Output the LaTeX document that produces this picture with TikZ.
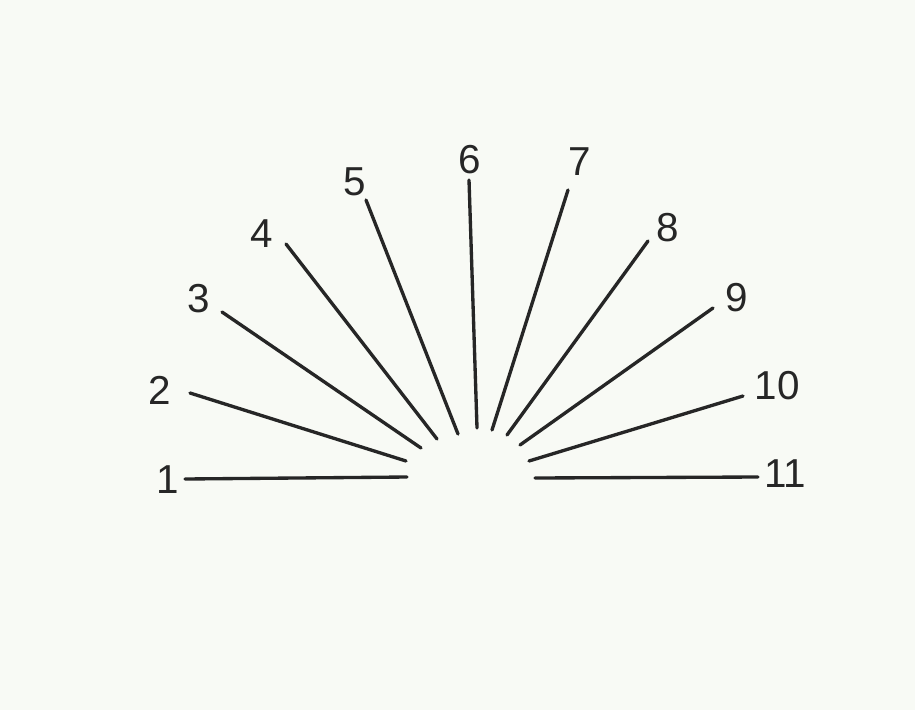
\documentclass[tikz,border=0pt]{standalone}
\usepackage{fontspec}
\setsansfont{Liberation Sans}
\usepackage{xcolor}
\definecolor{paper}{HTML}{F8FAF5}
\definecolor{ink}{HTML}{262626}

\begin{document}
\begin{tikzpicture}[x=0.02cm, y=-0.02cm, every node/.style={inner sep=0pt, text=ink, font=\sffamily\fontsize{23}{26}\selectfont}, ray/.style={draw=ink, line width=1.9pt, line cap=round}]
\fill[paper] (0,0) rectangle (915,710);
\useasboundingbox (0,0) rectangle (915,710);

% labels
\node (l1) at (168,480) {1};
\node (l2) at (160,390) {2};
\node (l3) at (199,299) {3};
\node (l4) at (262,234) {4};
\node (l5) at (355,182) {5};
\node (l6) at (470,160) {6};
\node (l7) at (580,162) {7};
\node (l8) at (668,228) {8};
\node (l9) at (737,298) {9};
\node (l10) at (777,386) {10};
\node (l11) at (785,474) {11};

% outer ends
\coordinate (o1) at (185,479);
\coordinate (o2) at (190,393);
\coordinate (o3) at (222,312);
\coordinate (o4) at (286,244);
\coordinate (o5) at (366,200);
\coordinate (o6) at (469,180);
\coordinate (o7) at (568,190);
\coordinate (o8) at (648,241);
\coordinate (o9) at (713,308);
\coordinate (o10) at (743,396);
\coordinate (o11) at (758,477);

% inner ends
\coordinate (i1) at (407,477);
\coordinate (i2) at (406,461);
\coordinate (i3) at (421,448);
\coordinate (i4) at (437,439);
\coordinate (i5) at (458,434);
\coordinate (i6) at (477,428);
\coordinate (i7) at (492,430);
\coordinate (i8) at (507,435);
\coordinate (i9) at (520,445);
\coordinate (i10) at (529,461);
\coordinate (i11) at (535,478);

\draw[ray] (o1)--(i1);
\draw[ray] (o2)--(i2);
\draw[ray] (o3)--(i3);
\draw[ray] (o4)--(i4);
\draw[ray] (o5)--(i5);
\draw[ray] (o6)--(i6);
\draw[ray] (o7)--(i7);
\draw[ray] (o8)--(i8);
\draw[ray] (o9)--(i9);
\draw[ray] (o10)--(i10);
\draw[ray] (o11)--(i11);
\end{tikzpicture}
\end{document}
